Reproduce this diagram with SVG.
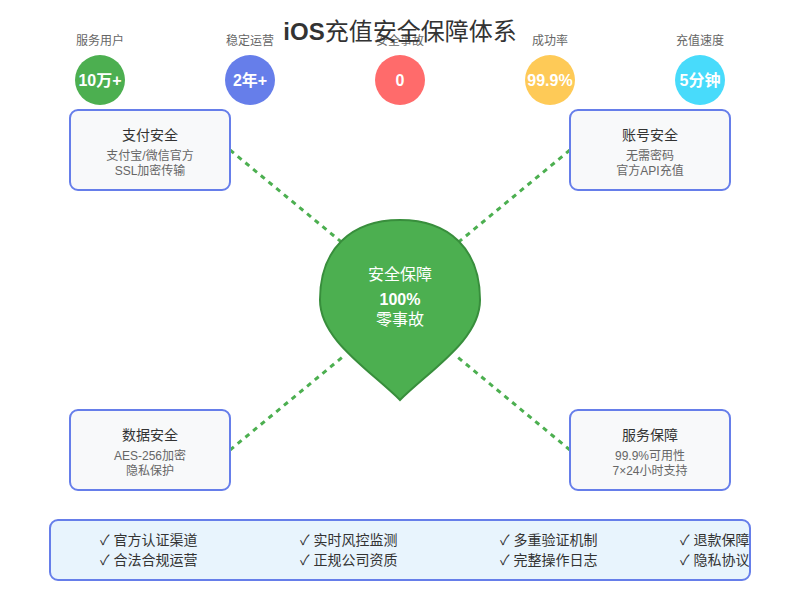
<svg xmlns="http://www.w3.org/2000/svg" width="800" height="600" viewBox="0 0 800 600">
<defs>
<style>
text{font-family:"Liberation Sans","Noto Sans CJK SC",sans-serif}
.title{font-size:24px;fill:#333;text-anchor:middle}
.slabel{font-size:12px;fill:#666;text-anchor:middle}
.sval{font-size:16px;font-weight:bold;fill:#fff;text-anchor:middle}
.card{fill:#f8f9fa;stroke:#667eea;stroke-width:2}
.ct{font-size:14px;fill:#333;text-anchor:middle}
.cs{font-size:12px;fill:#666;text-anchor:middle}
.conn{stroke:#4CAF50;stroke-width:3;stroke-dasharray:5,5;fill:none}
.wt{font-size:16px;fill:#fff;text-anchor:middle}
.ft{font-size:14px;fill:#333}
</style>
<clipPath id="fclip"><rect x="50" y="520" width="700" height="60" rx="8"/></clipPath>
</defs>
<rect width="800" height="600" fill="#fff"/>
<g id="stats">
<g id="stat1"><text class="slabel" x="100" y="45">服务用户</text><circle cx="100" cy="80" r="25" fill="#4CAF50"/><text class="sval" x="100" y="86">10万+</text></g>
<g id="stat2"><text class="slabel" x="250" y="45">稳定运营</text><circle cx="250" cy="80" r="25" fill="#667eea"/><text class="sval" x="250" y="86">2年+</text></g>
<g id="stat3"><text class="slabel" x="400" y="45">安全事故</text><circle cx="400" cy="80" r="25" fill="#ff6b6b"/><text class="sval" x="400" y="86">0</text></g>
<g id="stat4"><text class="slabel" x="550" y="45">成功率</text><circle cx="550" cy="80" r="25" fill="#feca57"/><text class="sval" x="550" y="86">99.9%</text></g>
<g id="stat5"><text class="slabel" x="700" y="45">充值速度</text><circle cx="700" cy="80" r="25" fill="#48dbfb"/><text class="sval" x="700" y="86">5分钟</text></g>
</g>
<text class="title" x="400" y="40"><tspan font-weight="bold">iOS</tspan><tspan font-weight="normal">充值安全保障体系</tspan></text>
<g id="connectors">
<line class="conn" x1="230" y1="150" x2="345" y2="245"/>
<line class="conn" x1="570" y1="150" x2="455" y2="245"/>
<line class="conn" x1="230" y1="450" x2="345" y2="355"/>
<line class="conn" x1="570" y1="450" x2="455" y2="355"/>
</g>
<g id="shield">
<path d="M400,220 C450,220 480,250 480,300 C480,340 430,370 400,400 C370,370 320,340 320,300 C320,250 350,220 400,220 Z" fill="#4CAF50" stroke="#388E3C" stroke-width="2"/>
<text class="wt" x="400" y="280">安全保障</text>
<text class="wt" x="400" y="305" font-weight="bold">100%</text>
<text class="wt" x="400" y="325">零事故</text>
</g>
<g id="card-pay">
<rect class="card" x="70" y="110" width="160" height="80" rx="8"/>
<text class="ct" x="150" y="140">支付安全</text>
<text class="cs" x="150" y="160">支付宝/微信官方</text>
<text class="cs" x="150" y="175">SSL加密传输</text>
</g>
<g id="card-account">
<rect class="card" x="570" y="110" width="160" height="80" rx="8"/>
<text class="ct" x="650" y="140">账号安全</text>
<text class="cs" x="650" y="160">无需密码</text>
<text class="cs" x="650" y="175">官方API充值</text>
</g>
<g id="card-data">
<rect class="card" x="70" y="410" width="160" height="80" rx="8"/>
<text class="ct" x="150" y="440">数据安全</text>
<text class="cs" x="150" y="460">AES-256加密</text>
<text class="cs" x="150" y="475">隐私保护</text>
</g>
<g id="card-service">
<rect class="card" x="570" y="410" width="160" height="80" rx="8"/>
<text class="ct" x="650" y="440">服务保障</text>
<text class="cs" x="650" y="460">99.9%可用性</text>
<text class="cs" x="650" y="475">7×24小时支持</text>
</g>
<g id="features">
<rect x="50" y="520" width="700" height="60" rx="8" fill="#e8f4fd" stroke="#667eea" stroke-width="2"/>
<g clip-path="url(#fclip)">
<text class="ft" x="100" y="545">✓ 官方认证渠道</text>
<text class="ft" x="100" y="565">✓ 合法合规运营</text>
<text class="ft" x="300" y="545">✓ 实时风控监测</text>
<text class="ft" x="300" y="565">✓ 正规公司资质</text>
<text class="ft" x="500" y="545">✓ 多重验证机制</text>
<text class="ft" x="500" y="565">✓ 完整操作日志</text>
<text class="ft" x="680" y="545">✓ 退款保障</text>
<text class="ft" x="680" y="565">✓ 隐私协议</text>
</g>
</g>
</svg>
